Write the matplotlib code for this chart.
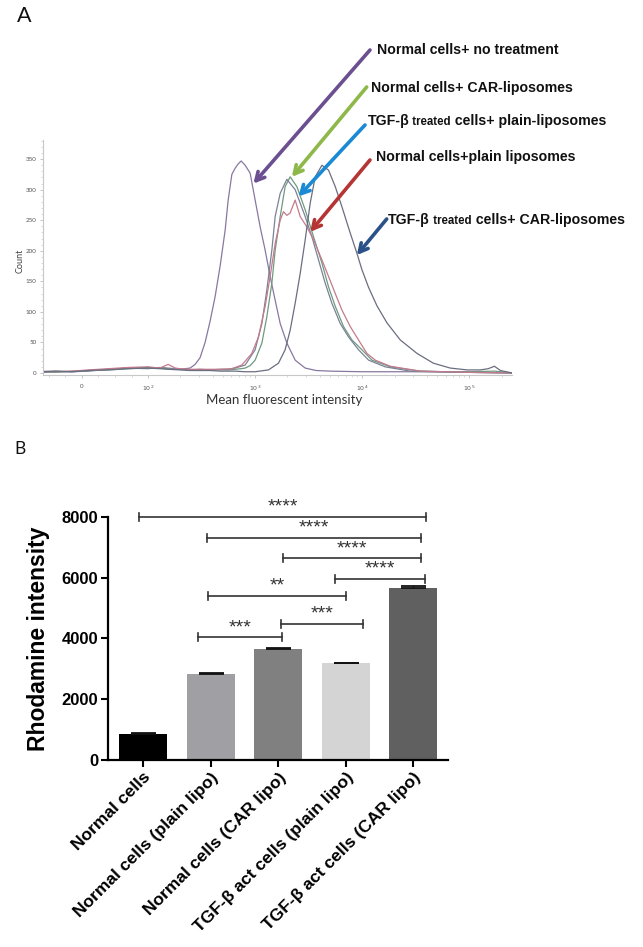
import matplotlib
matplotlib.use("Agg")
import matplotlib.pyplot as plt
import matplotlib.ticker as mticker

# ---------------- Panel A data : flow-cytometry histograms ----------------
nt_x = [-59, -40, -15, 10, 40, 70, 100, 129, 154, 199, 247, 275, 306, 341, 380, 423, 471, 525, 560, 606,
        650, 693, 740, 807, 898, 1000, 1114, 1240, 1380, 1538, 1713, 1977, 2364, 2933, 3715, 5000, 10000,
        30000, 100000, 250000]
nt_y = [1, 2, 2, 4, 6, 8, 9, 8, 7, 6, 8, 14, 25, 50, 85, 125, 175, 234, 283, 325,
        335, 342, 347, 340, 327, 283, 239, 201, 158, 119, 81, 49, 21, 8, 4, 3, 2, 2, 1, 0]

gr_x = [-59, -40, -15, 10, 40, 70, 100, 129, 154, 199, 247, 306, 380, 471, 560, 650, 740, 807, 898, 1000,
        1156, 1286, 1432, 1538, 1713, 1906, 2123, 2452, 2933, 3508, 4202, 4843, 5597, 6683, 8011, 9931,
        12320, 18270, 34830, 60000, 100000, 171300, 250000]
gr_y = [2, 1, 3, 4, 5, 7, 9, 8, 7, 6, 5, 5, 5, 5, 5, 6, 7, 8, 12, 21,
        49, 92, 147, 201, 256, 305, 321, 305, 267, 223, 180, 141, 109, 76, 54, 38, 21, 10, 3, 2, 2, 3, 0]

bl_x = [-59, -40, -15, 10, 40, 70, 100, 129, 154, 199, 247, 306, 380, 471, 560, 650, 807, 1000, 1156, 1286,
        1432, 1538, 1713, 1977, 2364, 2933, 3388, 3907, 4508, 5207, 6227, 7443, 9230, 11460, 16390, 28110,
        60000, 100000, 250000]
bl_y = [2, 3, 2, 3, 6, 8, 7, 9, 8, 6, 5, 6, 5, 6, 6, 8, 13, 38, 81, 136,
        201, 256, 294, 317, 300, 256, 223, 185, 147, 114, 81, 59, 38, 21, 10, 3, 2, 1, 0]

rd_x = [-59, -40, -15, 10, 40, 70, 100, 129, 154, 180, 199, 247, 306, 380, 471, 606, 751, 931, 1074, 1240,
        1380, 1538, 1713, 1838, 1977, 2123, 2364, 2634, 3043, 3508, 4202, 4843, 5597, 6459, 7722, 9230,
        11060, 13220, 18270, 34830, 60000, 100000, 250000]
rd_y = [3, 2, 3, 5, 7, 9, 10, 8, 14, 8, 7, 6, 6, 6, 6, 7, 13, 32, 59, 109,
        158, 212, 250, 264, 258, 262, 283, 256, 239, 218, 185, 158, 130, 103, 76, 54, 32, 21, 11, 3, 2, 1, 0]

tc_x = [-59, -40, -15, 10, 40, 70, 100, 129, 154, 199, 247, 306, 380, 471, 560, 650, 800, 1000, 1332, 1651,
        1906, 2123, 2364, 2634, 2933, 3266, 3638, 4202, 4843, 5597, 6459, 7722, 8914, 9931, 11460, 13710,
        17010, 22650, 32430, 46090, 66440, 95230, 126700, 150000, 171300, 195100, 250000]
tc_y = [2, 3, 2, 4, 5, 7, 8, 7, 6, 5, 4, 4, 4, 3, 3, 3, 2, 2, 5, 16,
        38, 70, 114, 163, 218, 278, 321, 340, 332, 305, 272, 229, 196, 169, 140, 110, 82, 54, 32, 16,
        8, 5, 5, 7, 11, 4, 0]

hist_colors = ["#8878a0", "#6f9a80", "#7a8296", "#c47a8c", "#6a6e80"]

# annotation labels (text, arrow colour, arrow tip in data coords)
ann_labels = ["Normal cells+ no treatment", "Normal cells+ CAR-liposomes",
              "TGF-β treated cells+ plain-liposomes", "Normal cells+plain liposomes",
              "TGF-β treated cells+ CAR-liposomes"]
ann_colors = ["#6b4f90", "#8fb84a", "#1a8ad4", "#b53434", "#2a5288"]
ann_tip_x = [964, 2203, 2541, 3266, 8914]
ann_tip_y = [310, 321, 289, 231, 193]

hist_xticks = [0, 100, 1000, 10000, 100000]
hist_xticklabels = ["0", "$10^2$", "$10^3$", "$10^4$", "$10^5$"]

# ---------------- Panel B data : bar chart ----------------
categories = ["Normal cells", "Normal cells (plain lipo)", "Normal cells (CAR lipo)",
              "TGF-β act cells (plain lipo)", "TGF-β act cells (CAR lipo)"]
means = [870, 2820, 3640, 3180, 5650]
sems = [30, 45, 55, 20, 75]
bar_colors = ["#000000", "#a0a0a4", "#808080", "#d4d4d4", "#606060"]

sig_left = [-0.06, 0.94, 2.07, 2.84, 0.96, 2.04, 0.81]
sig_right = [4.19, 4.11, 4.11, 4.17, 3.01, 3.26, 2.06]
sig_y = [8000, 7310, 6630, 5950, 5390, 4470, 4030]
sig_text = ["****", "****", "****", "****", "**", "***", "***"]

# ---------------- figure ----------------
W, H = 643, 947
fig = plt.figure(figsize=(W / 100, H / 100), dpi=100)


def fx(px):
    return px / W


def fy(py):
    return 1 - py / H


# ---- Panel A ----
axA = fig.add_axes([fx(43), fy(374.8), (512 - 43) / W, (374.8 - 140.2) / H])
axA.set_xscale("symlog", linthresh=100, linscale=0.555, base=10)
for xs, ys, c in zip([nt_x, gr_x, bl_x, rd_x, tc_x], [nt_y, gr_y, bl_y, rd_y, tc_y], hist_colors):
    axA.plot(xs, ys, color=c, lw=0.9)
axA.set_xlim(-59, 2.5e5)
axA.set_ylim(-3, 381)
for s in ["top", "right"]:
    axA.spines[s].set_visible(False)
for s in ["left", "bottom"]:
    axA.spines[s].set_color("#c8c8c8")
    axA.spines[s].set_linewidth(0.8)
axA.set_yticks(range(0, 351, 50))
axA.yaxis.set_minor_locator(mticker.MultipleLocator(10))
axA.set_xticks(hist_xticks)
axA.set_xticklabels(hist_xticklabels)
minor_x = [-50, -25, 25, 50, 75] + [m * 10 ** k for k in range(2, 6) for m in range(2, 10)]
axA.xaxis.set_minor_locator(mticker.FixedLocator(minor_x))
axA.xaxis.set_minor_formatter(mticker.NullFormatter())
axA.tick_params(axis="both", which="major", length=2.5, width=0.6, color="#bbbbbb",
                labelsize=4.5, labelcolor="#555555", pad=2)
axA.tick_params(axis="both", which="minor", length=1.5, width=0.5, color="#cccccc")
axA.tick_params(axis="x", which="major", pad=4)
for lab in axA.get_xticklabels() + axA.get_yticklabels():
    lab.set_family(["Lato", "DejaVu Sans"])
axA.text(-0.048, 0.485, "Count", transform=axA.transAxes, rotation=90, ha="center", va="center",
         fontsize=6.5, color="#444444", family="Lato")
axA.text(0.514, -0.107, "Mean fluorescent intensity", transform=axA.transAxes, ha="center",
         va="center", fontsize=9.5, color="#333333", family="Lato")

# arrows + labels
arrow_start_px = [(370, 50), (366.7, 87), (365, 125), (370, 160), (386.7, 219)]
text_pos_px = [(377, 54), (371, 92), (367.7, 125), (376, 161), (388.3, 224)]
for (sx, sy), c, tx, ty in zip(arrow_start_px, ann_colors, ann_tip_x, ann_tip_y):
    axA.annotate("", xy=(tx, ty), xycoords="data", xytext=(fx(sx), fy(sy)),
                 textcoords="figure fraction", annotation_clip=False,
                 arrowprops=dict(arrowstyle="->,head_length=0.6,head_width=0.32", color=c, lw=2.6,
                                 shrinkA=0, shrinkB=0))

renderer = fig.canvas.get_renderer()


def rich_text(px, py, parts):
    x = fx(px)
    for s, size in parts:
        t = fig.text(x, fy(py), s, fontsize=size, fontweight="bold", va="baseline", ha="left",
                     family=["Liberation Sans", "DejaVu Sans"], color="#111111")
        bb = t.get_window_extent(renderer)
        x = bb.x1 / W


for lab, (px, py) in zip(ann_labels, text_pos_px):
    if lab.startswith("TGF-β treated"):
        rest = lab[len("TGF-β treated"):]
        rich_text(px, py, [("TGF-β", 10.2), (" treated", 8.3), (rest, 10.2)])
    else:
        rich_text(px, py, [(lab, 10.2)])

fig.text(24.5 / W, fy(15.5), "A", ha="center", va="center", fontsize=15.5, family="Lato", color="#111111")
fig.text(20 / W, fy(449), "B", ha="center", va="center", fontsize=12.5, family="Lato", color="#111111")

# ---- Panel B ----
axB = fig.add_axes([fx(108), fy(760), (447.7 - 108) / W, (760 - 516.7) / H])
xpos = list(range(len(categories)))
axB.bar(xpos, means, width=0.71, color=bar_colors, zorder=2)
axB.errorbar(xpos, means, yerr=[[0] * len(sems), sems], fmt="none", ecolor="#111111", elinewidth=1.0,
             capsize=9, capthick=1.3, zorder=3)
axB.set_xlim(-0.52, 4.51)
axB.set_ylim(0, 8000)
for s in ["top", "right"]:
    axB.spines[s].set_visible(False)
for s in ["left", "bottom"]:
    axB.spines[s].set_linewidth(1.6)
axB.set_yticks([0, 2000, 4000, 6000, 8000])
axB.set_xticks(xpos)
axB.set_xticklabels(categories, rotation=45, ha="right", rotation_mode="anchor")
axB.tick_params(axis="both", length=5, width=1.5, pad=2)
for lab in axB.get_yticklabels():
    lab.set_family(["Liberation Sans", "DejaVu Sans"])
    lab.set_fontweight("bold")
    lab.set_fontsize(12)
for lab in axB.get_xticklabels():
    lab.set_family(["Liberation Sans", "DejaVu Sans"])
    lab.set_fontweight("bold")
    lab.set_fontsize(12.6)
axB.set_ylabel("Rhodamine intensity", fontsize=16.5, fontweight="bold",
               family=["Liberation Sans", "DejaVu Sans"])
axB.yaxis.set_label_coords(-0.17, 0.5)

tick_h = 130
for x1, x2, y, s in zip(sig_left, sig_right, sig_y, sig_text):
    axB.plot([x1, x2], [y, y], color="#333333", lw=1.2, clip_on=False, zorder=4)
    axB.plot([x1, x1], [y - tick_h, y + tick_h], color="#333333", lw=1.2, clip_on=False, zorder=4)
    axB.plot([x2, x2], [y - tick_h, y + tick_h], color="#333333", lw=1.2, clip_on=False, zorder=4)
    axB.text((x1 + x2) / 2, y + 170, s, ha="center", va="baseline", fontsize=14, color="#333333",
             family=["Liberation Sans", "DejaVu Sans"])

fig.savefig("out.png", dpi=100)
